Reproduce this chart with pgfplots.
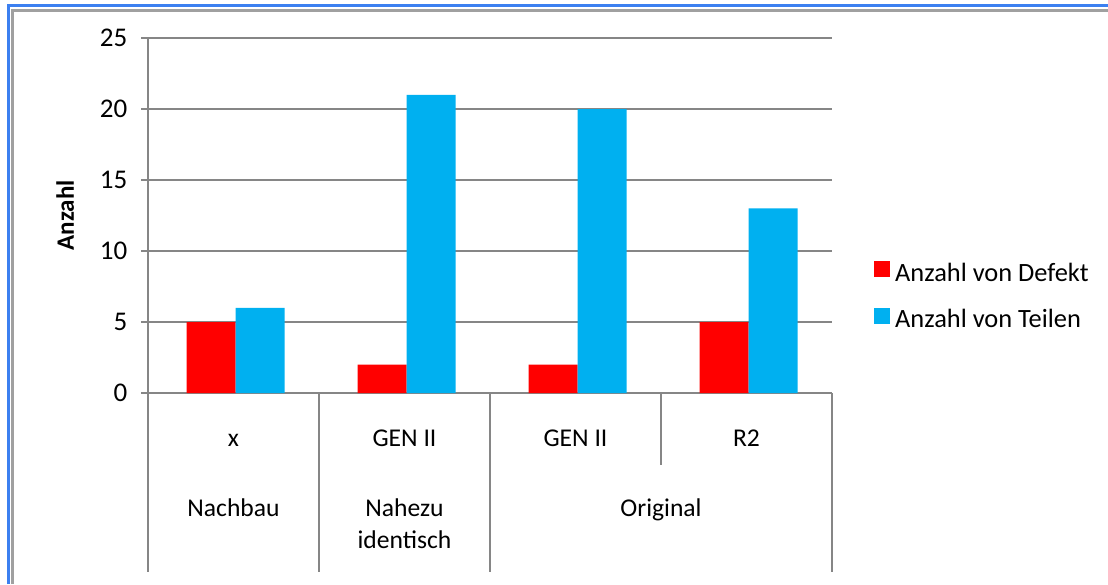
\documentclass[border=0pt]{standalone}
\usepackage{fontspec}
\setmainfont{Carlito}
\usepackage{pgfplots}
\pgfplotsset{compat=1.18}
\definecolor{xred}{HTML}{FF0000}
\definecolor{xblue}{HTML}{00B0F0}
\definecolor{gridgray}{HTML}{868686}
\definecolor{frameblue}{HTML}{3C80F0}
\definecolor{framegray}{HTML}{A0A0A0}
\begin{document}
\fontsize{12.5pt}{16pt}\selectfont
\begin{tikzpicture}[x=1pt,y=1pt]
\useasboundingbox (0,0) rectangle (554,292);
\fill[white] (0,0) rectangle (554,292);
\draw[frameblue, line width=1.5pt] (4.25,0) -- (4.25,289) -- (554,289);
\draw[framegray, line width=1.5pt] (6.25,0) -- (6.25,286.75) -- (554,286.75);
\begin{axis}[
  at={(74pt,95.5pt)}, anchor=south west,
  scale only axis, width=342pt, height=177.5pt,
  xmin=-0.5, xmax=3.5, ymin=0, ymax=25,
  ytick={0,5,10,15,20,25},
  xtick={0,1,2,3}, xticklabels={x,GEN II,GEN II,R2},
  /pgf/number format/assume math mode=true,
  axis x line*=bottom, axis y line*=left,
  axis line style={gridgray, line width=1pt},
  ymajorgrids, grid style={gridgray, line width=1pt},
  major tick style={gridgray, line width=1pt},
  tick align=outside, major tick length=3.5pt,
  xtick style={draw=none},
  xticklabel style={anchor=base, yshift=-23pt, font=\fontsize{12.8pt}{16pt}\selectfont},
  yticklabel style={xshift=-2.5pt, font=\fontsize{13.5pt}{16pt}\selectfont},
  ybar=0pt, bar width=24.5pt,
  ylabel={\textbf{Anzahl}},
  ylabel style={at={(axis description cs:-0.121,0.5)}, anchor=center, font=\fontsize{12.5pt}{16pt}\selectfont},
  clip=false,
  legend style={draw=none, fill=none, at={(axis description cs:1.061,0.269)}, anchor=west,
    inner sep=0pt, row sep=9pt, nodes={inner sep=1.5pt, font=\fontsize{13.2pt}{16pt}\selectfont}, legend cell align=left,
    /tikz/every odd column/.append style={column sep=1pt}},
  legend image code/.code={\fill[#1] (0pt,-1.5pt) rectangle (8pt,6.5pt);},
]
\addplot[fill=xred, draw=none, bar shift=-11.25pt] coordinates {(0,5) (1,2) (2,2) (3,5)};
\addlegendentry{Anzahl von Defekt}
\addplot[fill=xblue, draw=none, bar shift=13.25pt] coordinates {(0,6) (1,21) (2,20) (3,13)};
\addlegendentry{Anzahl von Teilen}
\draw[gridgray, line width=1pt] (axis cs:-0.5,0) -- ([yshift=-89.5pt]axis cs:-0.5,0);
\draw[gridgray, line width=1pt] (axis cs:0.5,0) -- ([yshift=-89.5pt]axis cs:0.5,0);
\draw[gridgray, line width=1pt] (axis cs:1.5,0) -- ([yshift=-89.5pt]axis cs:1.5,0);
\draw[gridgray, line width=1pt] (axis cs:2.5,0) -- ([yshift=-36pt]axis cs:2.5,0);
\draw[gridgray, line width=1pt] (axis cs:3.5,0) -- ([yshift=-89.5pt]axis cs:3.5,0);
\node[anchor=base, font=\fontsize{12.8pt}{16pt}\selectfont] at ([yshift=-61.5pt]axis cs:0,0) {Nachbau};
\node[anchor=base, font=\fontsize{12.8pt}{16pt}\selectfont] at ([yshift=-61.5pt]axis cs:1,0) {Nahezu};
\node[anchor=base, font=\fontsize{12.8pt}{16pt}\selectfont] at ([yshift=-77.5pt]axis cs:1,0) {identisch};
\node[anchor=base, font=\fontsize{12.8pt}{16pt}\selectfont] at ([yshift=-61.5pt]axis cs:2.5,0) {Original};
\end{axis}
\end{tikzpicture}
\end{document}
